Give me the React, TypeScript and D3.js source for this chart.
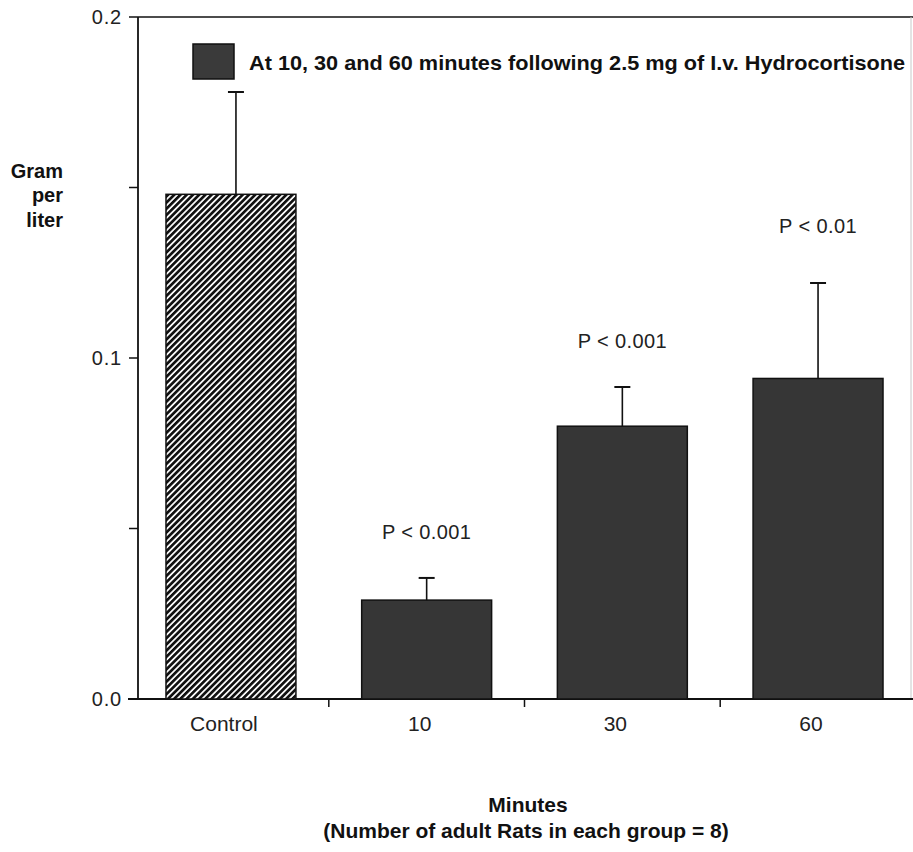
import * as d3 from "d3";

const WIDTH = 913;
const HEIGHT = 852;
const FONT = "'Liberation Sans', Arial, Helvetica, sans-serif";

// data (gram per liter)
const groups = ["Control", "10", "30", "60"];
const means = [0.148, 0.029, 0.08, 0.094];
const errors = [0.03, 0.0065, 0.0115, 0.028];
const pLabels = ["", "P < 0.001", "P < 0.001", "P < 0.01"];
const yTicks = [0, 0.05, 0.1, 0.15, 0.2];
const yTickLabels = ["0.0", "", "0.1", "", "0.2"];
const legendLabel = "At 10, 30 and 60 minutes following 2.5 mg of I.v. Hydrocortisone";

const LEFT = 138;
const RIGHT = 911;
const TOP = 17;
const BOTTOM = 699;

export default function App() {
  const x = d3
    .scaleBand<string>()
    .domain(groups)
    .range([LEFT, RIGHT])
    .paddingInner(0.336)
    .paddingOuter(0.143);
  const y = d3.scaleLinear().domain([0, 0.2]).range([BOTTOM, TOP]);
  const step = x.step();
  const bw = x.bandwidth();

  return (
    <div style={{ position: "absolute", left: 0, top: 0 }}>
      <svg width={WIDTH} height={HEIGHT} style={{ display: "block", background: "#fff" }}>
        <defs>
          <pattern
            id="hatch"
            patternUnits="userSpaceOnUse"
            width={4.4}
            height={4.4}
            patternTransform="rotate(45)"
          >
            <rect width={4.4} height={4.4} fill="#fff" />
            <rect width={2.7} height={4.4} fill="#111" />
          </pattern>
        </defs>

        {/* frame */}
        <line x1={LEFT} x2={913} y1={TOP} y2={TOP} stroke="#111" strokeWidth={1.6} />
        <line x1={RIGHT} x2={RIGHT} y1={TOP} y2={BOTTOM} stroke="#c8c8c8" strokeWidth={1} />
        <line x1={LEFT} x2={LEFT} y1={TOP} y2={BOTTOM} stroke="#111" strokeWidth={1.8} />
        <line x1={LEFT - 10} x2={913} y1={BOTTOM} y2={BOTTOM} stroke="#111" strokeWidth={1.8} />

        {/* y axis ticks */}
        {yTicks.map((t, i) => (
          <g key={t}>
            <line x1={LEFT - 9} x2={LEFT} y1={y(t)} y2={y(t)} stroke="#111" strokeWidth={1.5} />
            {yTickLabels[i] && (
              <text
                x={LEFT - 16}
                y={y(t)}
                dy="0.35em"
                textAnchor="end"
                fontFamily={FONT}
                fontSize={20}
                letterSpacing={0.8}
                fill="#222"
              >
                {yTickLabels[i]}
              </text>
            )}
          </g>
        ))}

        {/* x axis ticks between groups */}
        {groups.slice(1).map((g) => {
          const bx = (x(g) as number) - (step - bw) / 2;
          return (
            <line key={g} x1={bx} x2={bx} y1={BOTTOM} y2={BOTTOM + 8} stroke="#111" strokeWidth={1.5} />
          );
        })}

        {/* bars */}
        {groups.map((g, i) => (
          <rect
            key={g}
            x={x(g)}
            y={y(means[i])}
            width={bw}
            height={BOTTOM - y(means[i])}
            fill={i === 0 ? "url(#hatch)" : "#363636"}
            stroke="#111"
            strokeWidth={1.5}
          />
        ))}

        {/* error bars */}
        {groups.map((g, i) => {
          const cx = (x(g) as number) + bw / 2 + (i === 0 ? 5 : 0);
          const top = y(means[i] + errors[i]);
          return (
            <g key={g} stroke="#111" strokeWidth={1.6}>
              <line x1={cx} x2={cx} y1={y(means[i])} y2={top} />
              <line x1={cx - 8} x2={cx + 8} y1={top} y2={top} strokeWidth={2} />
            </g>
          );
        })}

        {/* significance labels */}
        {groups.map((g, i) =>
          pLabels[i] ? (
            <text
              key={g}
              x={(x(g) as number) + bw / 2}
              y={y(means[i] + errors[i]) - (i === 3 ? 50 : 39)}
              textAnchor="middle"
              fontFamily={FONT}
              fontSize={20}
              letterSpacing={0.4}
              fill="#222"
            >
              {pLabels[i]}
            </text>
          ) : null
        )}

        {/* group labels */}
        {groups.map((g) => (
          <text
            key={g}
            x={(x(g) as number) + bw / 2 - 7}
            y={BOTTOM + 32}
            textAnchor="middle"
            fontFamily={FONT}
            fontSize={21}
            fill="#222"
          >
            {g}
          </text>
        ))}

        {/* legend */}
        <rect x={193} y={44} width={41} height={35} fill="#3a3a3a" stroke="#111" strokeWidth={1.5} />
        <text x={249} y={70} fontFamily={FONT} fontSize={21} fontWeight="bold" fill="#111" textLength={656} lengthAdjust="spacingAndGlyphs">
          {legendLabel}
        </text>

        {/* y axis title */}
        <g fontFamily={FONT} fontSize={20} fontWeight="bold" fill="#111" textAnchor="end">
          <text x={63} y={178}>Gram</text>
          <text x={63} y={202}>per</text>
          <text x={63} y={227}>liter</text>
        </g>

        {/* x axis title */}
        <g fontFamily={FONT} fontSize={21} fontWeight="bold" fill="#111" textAnchor="middle">
          <text x={528} y={812}>Minutes</text>
          <text x={526} y={838}>(Number of adult Rats in each group = 8)</text>
        </g>
      </svg>
    </div>
  );
}
